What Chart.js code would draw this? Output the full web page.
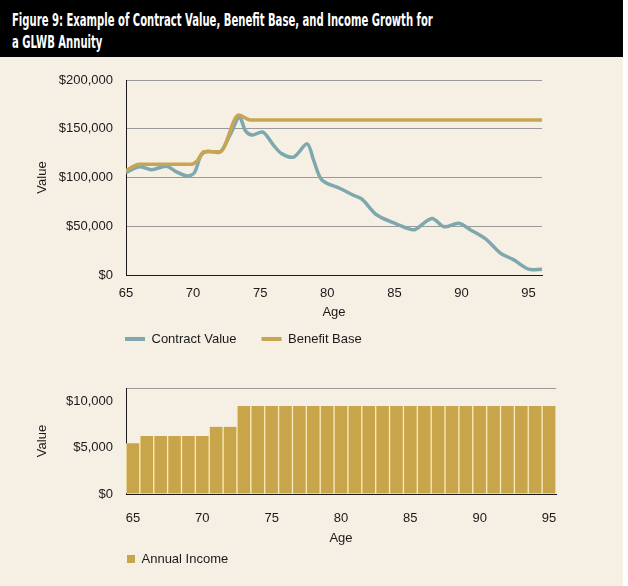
<!DOCTYPE html>
<html>
<head>
<meta charset="utf-8">
<script src="https://cdn.jsdelivr.net/npm/chart.js@4.4.0/dist/chart.umd.min.js"></script>
<style>
  html, body { margin: 0; padding: 0; background: #fff; }
  #panel { position: relative; width: 623px; height: 586px; background: #f5efe4; }
  #title {
    height: 57px; background: #000; color: #fff; box-sizing: border-box;
    padding: 9px 0 0 12px; overflow: hidden;
    font-family: "DejaVu Sans Condensed", "Liberation Sans Narrow", "DejaVu Sans", sans-serif;
    font-weight: bold; font-size: 18.5px; line-height: 22px;
  }
  #title span { display: inline-block; white-space: nowrap; transform-origin: 0 0; }
  .box { position: absolute; left: 0; width: 623px; }
</style>
</head>
<body>
<div id="panel">
  <div id="title"><span id="t1">Figure 9: Example of Contract Value, Benefit Base, and Income Growth for</span><br><span id="t2">a GLWB Annuity</span></div>
  <div class="box" style="top:57px;height:308px"><canvas id="valueChart"></canvas></div>
  <div class="box" style="top:365px;height:221px"><canvas id="incomeChart"></canvas></div>
</div>
<script>
// datos
const ageTicks = [65, 70, 75, 80, 85, 90, 95];
const valueTicks = [0, 50000, 100000, 150000, 200000];
const incomeTicks = [0, 5000, 10000];

const contractAges = [65, 66, 66.9, 68, 68.8, 69.6, 70.1, 70.6, 71.1, 72, 72.8, 73.45, 73.9, 74.4, 75.2, 76, 76.6, 77.5, 78.5, 79, 79.6, 81, 82, 82.6, 83.7, 85.2, 86.3, 86.6, 87.8, 88.7, 89.8, 90.65, 91.8, 92.9, 93.9, 95, 96];
const contractValue = [105000, 111000, 108000, 111500, 105500, 101500, 105000, 123000, 127000, 126000, 145000, 162000, 148000, 143500, 146500, 133000, 124500, 121000, 134500, 117000, 97500, 88500, 81500, 77500, 61500, 52000, 46500, 47000, 58000, 49500, 53000, 46500, 37000, 22500, 15500, 6000, 6000];

const benefitAges = [65, 66, 68, 69.8, 70.3, 70.8, 72, 73.4, 74.25, 96];
const benefitBase = [107000, 113500, 113500, 113500, 117000, 126500, 126500, 164000, 159000, 159000];

const incomeAges = [65, 66, 67, 68, 69, 70, 71, 72, 73, 74, 75, 76, 77, 78, 79, 80, 81, 82, 83, 84, 85, 86, 87, 88, 89, 90, 91, 92, 93, 94, 95];
const annualIncome = [5500, 6300, 6300, 6300, 6300, 6300, 7300, 7300, 9560, 9560, 9560, 9560, 9560, 9560, 9560, 9560, 9560, 9560, 9560, 9560, 9560, 9560, 9560, 9560, 9560, 9560, 9560, 9560, 9560, 9560, 9560];

const TEAL = "#7ea8ae", GOLD = "#c8a552", BAR = "#c8a44b", GRID = "#9a9a9a", INK = "#1a1a1a";

// titulo: comprimir al ancho del original
const t1 = document.getElementById("t1"), t2 = document.getElementById("t2");
const k = 421 / t1.offsetWidth;
t1.style.transform = t2.style.transform = `scaleX(${k})`;

Chart.defaults.font.family = "'Liberation Sans', Arial, sans-serif";
Chart.defaults.font.size = 13;
Chart.defaults.color = INK;
Chart.defaults.animation = false;

const money = v => "$" + Number(v).toLocaleString("en-US");

// mueve la leyenda a una posicion fija (y agranda su caja para que no se recorte)
const legendPlace = {
  id: "legendPlace",
  afterLayout(chart, args, opts) {
    const lg = chart.legend;
    if (!lg) return;
    const pad = lg.options.labels.padding;
    const dx = opts.x - pad - lg.left, dy = opts.y - pad - lg.top;
    lg.left += dx; lg.right += dx; lg.top += dy;
    lg.bottom = opts.y + 30;
  }
};

const legendItems = chart =>
  Chart.defaults.plugins.legend.labels.generateLabels(chart).map(l => ({ ...l, lineWidth: 0 }));

new Chart(document.getElementById("valueChart"), {
  type: "line",
  data: {
    datasets: [
      {
        label: "Contract Value",
        data: contractAges.map((a, i) => ({ x: a, y: contractValue[i] })),
        borderColor: TEAL, backgroundColor: TEAL, borderWidth: 3.5,
        pointRadius: 0, tension: 0.3, order: 2
      },
      {
        label: "Benefit Base",
        data: benefitAges.map((a, i) => ({ x: a, y: benefitBase[i] })),
        borderColor: GOLD, backgroundColor: GOLD, borderWidth: 3.5,
        pointRadius: 0, cubicInterpolationMode: "monotone", order: 1
      }
    ]
  },
  options: {
    responsive: true, maintainAspectRatio: false,
    layout: { padding: { left: 0, right: 81, top: 23, bottom: 15 } },
    scales: {
      x: {
        type: "linear", min: 65, max: 96,
        afterBuildTicks: s => { s.ticks = ageTicks.map(v => ({ value: v })); },
        afterFit: s => { s.height = 45; },
        grid: { display: false },
        border: { color: INK, width: 1 },
        ticks: { padding: 3, maxRotation: 0 },
        title: { display: true, text: "Age", padding: { top: 0, bottom: 0 } }
      },
      y: {
        min: 0, max: 200000,
        afterBuildTicks: s => { s.ticks = valueTicks.map(v => ({ value: v })); },
        afterFit: s => { s.width = 126; },
        grid: { color: GRID, lineWidth: 1, drawTicks: false },
        border: { color: INK, width: 1 },
        ticks: { padding: 13, callback: money },
        title: { display: true, text: "Value", padding: { top: 35, bottom: 0 } }
      }
    },
    plugins: {
      tooltip: { enabled: false },
      legend: {
        position: "bottom", align: "start", maxHeight: 30,
        labels: {
          boxWidth: 20, boxHeight: 4, padding: 25, generateLabels: legendItems,
          sort: (a, b) => a.datasetIndex - b.datasetIndex
        }
      },
      legendPlace: { x: 125, y: 275.5 }
    }
  },
  plugins: [legendPlace]
});

new Chart(document.getElementById("incomeChart"), {
  type: "bar",
  data: {
    labels: incomeAges.map(String),
    datasets: [{
      label: "Annual Income",
      data: annualIncome,
      backgroundColor: BAR,
      borderColor: "#f8eab8",
      borderWidth: { left: 1, right: 1, top: 0, bottom: 0 },
      categoryPercentage: 1, barPercentage: 1
    }]
  },
  options: {
    responsive: true, maintainAspectRatio: false,
    layout: { padding: { left: 0, right: 67, top: 23, bottom: 15 } },
    scales: {
      x: {
        afterFit: s => { s.height = 52; },
        grid: { display: false },
        border: { color: INK, width: 1 },
        ticks: {
          padding: 9, maxRotation: 0, autoSkip: false,
          callback: (v, i) => (incomeAges[i] % 5 === 0 ? incomeAges[i] : "")
        },
        title: { display: true, text: "Age", padding: { top: 0, bottom: 0 } }
      },
      y: {
        min: 0, max: 11500,
        afterBuildTicks: s => { s.ticks = incomeTicks.concat([11500]).map(v => ({ value: v })); },
        afterFit: s => { s.width = 126; },
        grid: {
          drawTicks: false, lineWidth: 1,
          color: c => (c.tick && c.tick.value === 11500 ? GRID : "rgba(0,0,0,0)")
        },
        border: { color: INK, width: 1 },
        ticks: { padding: 13, callback: v => (v === 11500 ? "" : money(v)) },
        title: { display: true, text: "Value", padding: { top: 35, bottom: 0 } }
      }
    },
    plugins: {
      tooltip: { enabled: false },
      legend: {
        position: "bottom", align: "start", maxHeight: 25,
        labels: { boxWidth: 8, boxHeight: 8, padding: 10, generateLabels: legendItems }
      },
      legendPlace: { x: 127, y: 187.5 }
    }
  },
  plugins: [legendPlace]
});
</script>
</body>
</html>
